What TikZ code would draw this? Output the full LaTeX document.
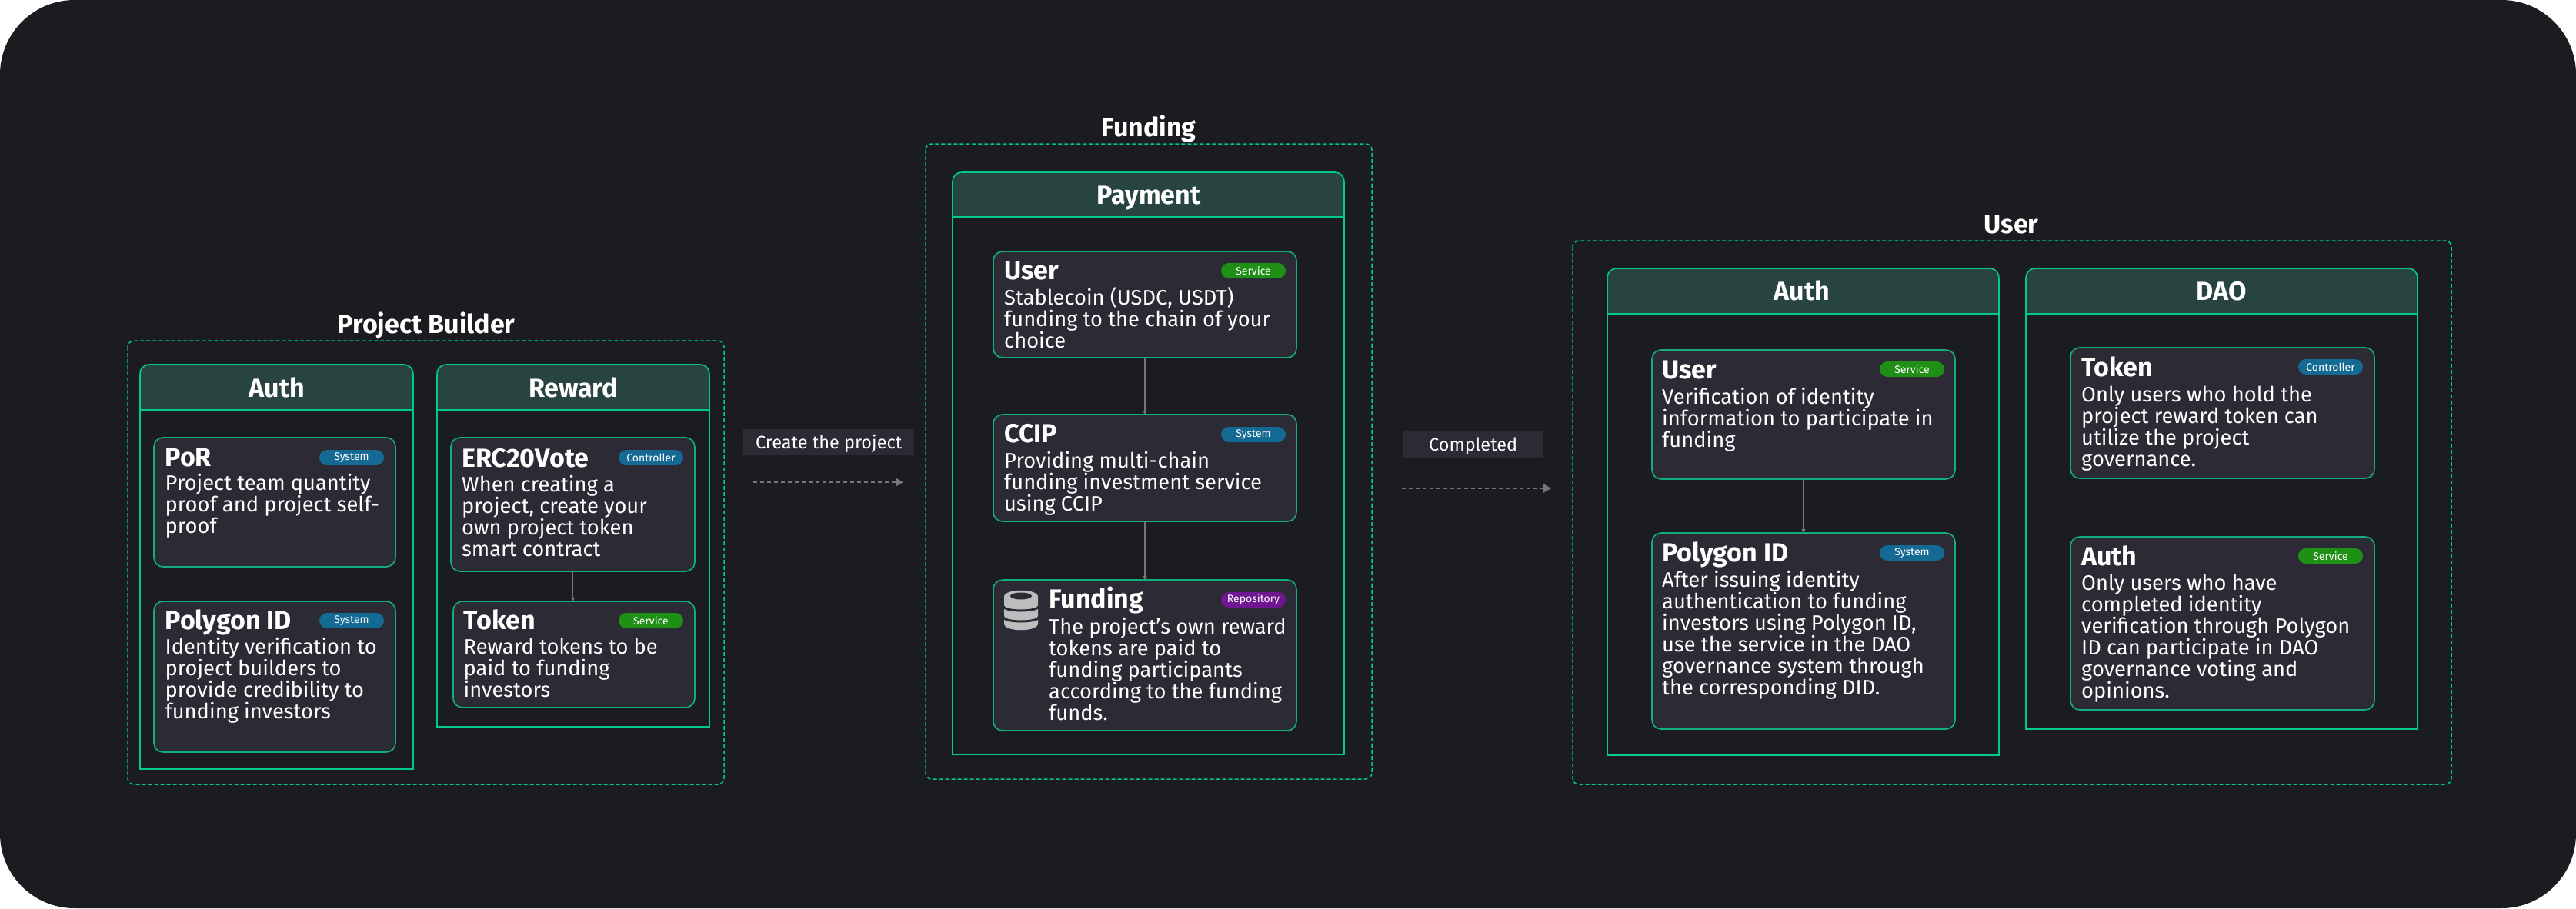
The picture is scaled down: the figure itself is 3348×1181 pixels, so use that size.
\documentclass[tikz,border=0pt]{standalone}
\usepackage{fontspec}
\setmainfont{Fira Sans}
\usetikzlibrary{arrows.meta}
\definecolor{pagebg}{HTML}{1A1C20}
\definecolor{cardbg}{HTML}{2C2B35}
\definecolor{headbg}{HTML}{284440}
\definecolor{mint}{HTML}{00C98F}
\definecolor{cardline}{HTML}{13AE80}
\definecolor{sysblue}{HTML}{156A94}
\definecolor{svcgreen}{HTML}{1F9015}
\definecolor{repopurple}{HTML}{6F1791}
\definecolor{flowgrey}{HTML}{767676}
\definecolor{dbgrey}{HTML}{BDBDBD}
\tikzset{
  zone/.style={draw=mint,line width=1.5pt,dash pattern=on 5pt off 3pt,rounded corners=8pt},
  colframe/.style={draw=mint,line width=1.6pt,fill=pagebg},
  colhead/.style={draw=mint,line width=1.6pt,fill=headbg},
  colrule/.style={draw=mint,line width=2.6pt},
  card/.style={draw=cardline,line width=1.6pt,fill=cardbg,rounded corners=12pt,anchor=north west,inner sep=0pt,outer sep=0pt},
  zonetitle/.style={anchor=base,inner sep=0pt,text=white,font=\fontsize{34}{34}\selectfont\bfseries},
  cardtitle/.style={anchor=base west,inner sep=0pt,text=white,font=\fontsize{34}{34}\selectfont\bfseries},
  body/.style={anchor=base west,inner sep=0pt,align=left,text=white,font=\fontsize{27.3}{28}\selectfont},
  badge/.style={text=white,inner sep=0pt,minimum width=84pt,minimum height=20pt,rounded corners=10pt,font=\fontsize{14}{14}\selectfont},
  flowlabel/.style={fill=cardbg,text=white,inner sep=0pt,anchor=north west,text height=25pt,text depth=9pt,font=\fontsize{23.5}{24}\selectfont},
  link/.style={draw=flowgrey,line width=1.1pt,-{Triangle[length=5pt,width=5pt]}},
  flow/.style={draw=flowgrey,line width=2pt,dash pattern=on 5pt off 4pt,-{Triangle[length=10pt,width=11pt]}}
}
\begin{document}
\begin{tikzpicture}[x=1pt,y=-1pt]
\useasboundingbox[fill=white] (0,0) rectangle (3348,1181);
\fill[pagebg,rounded corners=97pt] (0,0) rectangle (3348,1181);

% project builder
\draw[zone] (166,443) rectangle (941,1020);
\node[zonetitle] (buildertitle) at (554,433) {Project Builder};
\draw[colframe] (182,533) rectangle (537,1000);
\draw[colhead] (182,533) [rounded corners=12pt] -- (182,474) -- (537,474) [sharp corners] -- (537,533) -- cycle;
\draw[colrule] (182,533) -- (537,533);
\node[zonetitle] (authhead) at (360,516) {Auth};
\draw[colframe] (568,533) rectangle (922,945);
\draw[colhead] (568,533) [rounded corners=12pt] -- (568,474) -- (922,474) [sharp corners] -- (922,533) -- cycle;
\draw[colrule] (568,533) -- (922,533);
\node[zonetitle] (rewardhead) at (745,516) {Reward};

\node[card,minimum width=314pt,minimum height=168pt] (porbox) at (200,569) {};
\node[cardtitle] (portitle) at (214.5,606) {PoR};
\node[badge,fill=sysblue] (porbadge) at (457,595) {System};
\node[body] (portext) at (214.5,693.5) {Project team quantity\\proof and project self-\\proof};

\node[card,minimum width=314pt,minimum height=196pt] (polybox) at (200,782) {};
\node[cardtitle] (polytitle) at (214.5,818.5) {Polygon ID};
\node[badge,fill=sysblue] (polybadge) at (457,807) {System};
\node[body] (polytext) at (214.5,934.5) {Identity verification to\\project builders to\\provide credibility to\\funding investors};

\node[card,minimum width=317pt,minimum height=174pt] (ercbox) at (586,569) {};
\node[cardtitle] (erctitle) at (600,607) {ERC20Vote};
\node[badge,fill=sysblue] (ercbadge) at (846,595) {Controller};
\node[body] (erctext) at (600,723) {When creating a\\project, create your\\own project token\\smart contract};

\node[card,minimum width=314pt,minimum height=138pt] (tokenbox) at (589,782) {};
\node[cardtitle] (tokentitle) at (602.5,818.5) {Token};
\node[badge,fill=svcgreen] (tokenbadge) at (846,807) {Service};
\node[body] (tokentext) at (602.5,906.5) {Reward tokens to be\\paid to funding\\investors};
\draw[link] (ercbox.south) -- (ercbox.south |- tokenbox.north);

% create the project
\node[flowlabel,minimum width=222pt] (createlabel) at (966,558) {Create the project};
\coordinate (createfrom) at (979,627);
\coordinate (createto) at (1174,627);
\draw[flow] (createfrom) -- (createto);

% funding
\draw[zone] (1203,187) rectangle (1783,1013);
\node[zonetitle] (fundingtitle) at (1493,177) {Funding};
\draw[colframe] (1238,282) rectangle (1747,981);
\draw[colhead] (1238,282) [rounded corners=12pt] -- (1238,224) -- (1747,224) [sharp corners] -- (1747,282) -- cycle;
\draw[colrule] (1238,282) -- (1747,282);
\node[zonetitle] (paymenthead) at (1493,265) {Payment};

\node[card,minimum width=394pt,minimum height=138pt] (userbox) at (1291,327) {};
\node[cardtitle] (usertitle) at (1305,363.5) {User};
\node[badge,fill=svcgreen] (userbadge) at (1629,352) {Service};
\node[body] (usertext) at (1305,452) {Stablecoin (USDC, USDT)\\funding to the chain of your\\choice};

\node[card,minimum width=394pt,minimum height=139pt] (ccipbox) at (1291,539) {};
\node[cardtitle] (cciptitle) at (1305,575.5) {CCIP};
\node[badge,fill=sysblue] (ccipbadge) at (1629,565) {System};
\node[body] (cciptext) at (1305,664) {Providing multi-chain\\funding investment service\\using CCIP};

\node[card,minimum width=394pt,minimum height=196pt] (fundbox) at (1291,754) {};
\node[cardtitle] (fundtitle) at (1363,790.5) {Funding};
\node[badge,fill=repopurple] (fundbadge) at (1629,780) {Repository};
\node[body] (fundtext) at (1363,936.5) {The project's own reward\\tokens are paid to\\funding participants\\according to the funding\\funds.};
\fill[dbgrey] (1305,776) .. controls (1305,765) and (1349,765) .. (1349,776) -- (1349,811) .. controls (1349,822) and (1305,822) .. (1305,811) -- cycle;
\fill[cardbg] (1327,775) ellipse [x radius=14pt,y radius=4.5pt];
\draw[cardbg,line width=3pt] (1304,788) .. controls (1304,796) and (1350,796) .. (1350,788);
\draw[cardbg,line width=3pt] (1304,802) .. controls (1304,810) and (1350,810) .. (1350,802);
\draw[link] (userbox) -- (ccipbox);
\draw[link] (ccipbox) -- (fundbox);

% completed
\node[flowlabel,minimum width=183pt] (donelabel) at (1823,561) {Completed};
\coordinate (donefrom) at (1822,635);
\coordinate (doneto) at (2016,635);
\draw[flow] (donefrom) -- (doneto);

% user
\draw[zone] (2044,313) rectangle (3186,1020);
\node[zonetitle] (usergrouptitle) at (2614,303) {User};
\draw[colframe] (2089,408) rectangle (2598,982);
\draw[colhead] (2089,408) [rounded corners=12pt] -- (2089,349) -- (2598,349) [sharp corners] -- (2598,408) -- cycle;
\draw[colrule] (2089,408) -- (2598,408);
\node[zonetitle] (userauthhead) at (2342,390) {Auth};
\draw[colframe] (2633,408) rectangle (3142,948);
\draw[colhead] (2633,408) [rounded corners=12pt] -- (2633,349) -- (3142,349) [sharp corners] -- (3142,408) -- cycle;
\draw[colrule] (2633,408) -- (3142,408);
\node[zonetitle] (daohead) at (2887,390) {DAO};

\node[card,minimum width=394pt,minimum height=168pt] (vuserbox) at (2147,455) {};
\node[cardtitle] (vusertitle) at (2160,492) {User};
\node[badge,fill=svcgreen] (vuserbadge) at (2485,480) {Service};
\node[body] (vusertext) at (2160,581) {Verification of identity\\information to participate in\\funding};

\node[card,minimum width=394pt,minimum height=255pt] (didbox) at (2147,693) {};
\node[cardtitle] (didtitle) at (2160,730) {Polygon ID};
\node[badge,fill=sysblue] (didbadge) at (2485,719) {System};
\node[body] (didtext) at (2160,903) {After issuing identity\\authentication to funding\\investors using Polygon ID,\\use the service in the DAO\\governance system through\\the corresponding DID.};
\draw[link] (vuserbox) -- (didbox);

\node[card,minimum width=395pt,minimum height=170pt] (govbox) at (2691,452) {};
\node[cardtitle] (govtitle) at (2705,489) {Token};
\node[badge,fill=sysblue] (govbadge) at (3029,477) {Controller};
\node[body] (govtext) at (2705,606) {Only users who hold the\\project reward token can\\utilize the project\\governance.};

\node[card,minimum width=395pt,minimum height=225pt] (voteauthbox) at (2691,698) {};
\node[cardtitle] (voteauthtitle) at (2705,735) {Auth};
\node[badge,fill=svcgreen] (voteauthbadge) at (3029,723) {Service};
\node[body] (voteauthtext) at (2705,907) {Only users who have\\completed identity\\verification through Polygon\\ID can participate in DAO\\governance voting and\\opinions.};
\end{tikzpicture}
\end{document}
